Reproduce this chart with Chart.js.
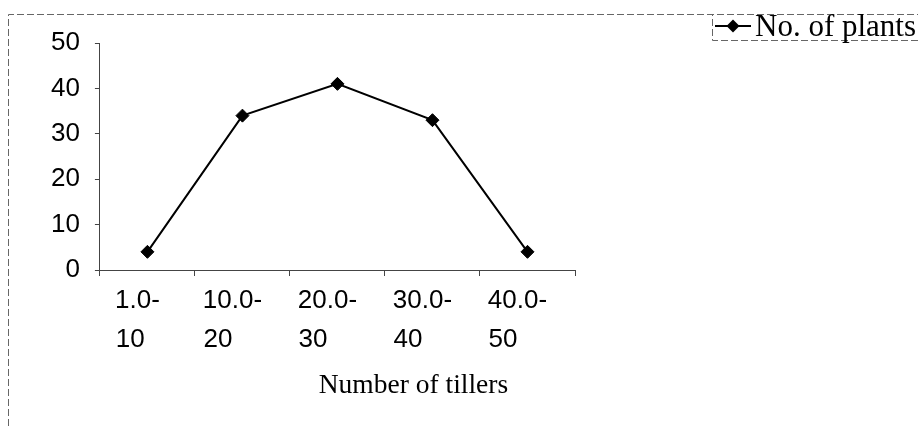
<!DOCTYPE html>
<html>
<head>
<meta charset="utf-8">
<script src="https://cdn.jsdelivr.net/npm/chart.js@4.4.0/dist/chart.umd.min.js"></script>
<style>
  html, body { margin: 0; padding: 0; background: #fff; }
  #wrap { width: 918px; height: 426px; }
</style>
</head>
<body>
<div id="wrap"><canvas id="tillersChart"></canvas></div>
<script>
const tillerClasses = [['1.0-', '10'], ['10.0-', '20'], ['20.0-', '30'], ['30.0-', '40'], ['40.0-', '50']];
const plantCounts = [4, 34, 41, 33, 4];
const seriesName = 'No. of plants';
const xAxisTitle = 'Number of tillers';
const yTicks = [0, 10, 20, 30, 40, 50];

const tickFont = { family: '"Liberation Sans", Arial, sans-serif', size: 26, lineHeight: 1.5 };
const titleFont = '27.5px "Liberation Serif", "Times New Roman", serif';
const legendFont = '31px "Liberation Serif", "Times New Roman", serif';

// excel keeps the wrapped lines left aligned, so pad the second line out to the first
const measure = document.createElement('canvas').getContext('2d');
measure.font = tickFont.size + 'px ' + tickFont.family;
function padLines(lines) {
  const w0 = measure.measureText(lines[0]).width;
  const sp = measure.measureText(' ').width;
  return lines.map(l => {
    const n = Math.round((w0 - measure.measureText(l).width) / sp);
    return n > 0 ? l + ' '.repeat(n) : l;
  });
}

const extras = {
  id: 'extras',
  beforeDraw(chart) {
    const ctx = chart.ctx;
    ctx.save();
    ctx.strokeStyle = '#666';
    ctx.lineWidth = 1;
    ctx.setLineDash([7, 3]);
    ctx.beginPath();
    ctx.moveTo(8.5, 426);
    ctx.lineTo(8.5, 14.5);
    ctx.lineTo(918, 14.5);
    ctx.stroke();
    ctx.restore();
  },
  afterDraw(chart) {
    const ctx = chart.ctx;
    const area = chart.chartArea;
    const ds = chart.data.datasets[0];
    ctx.save();

    // axis title, sits right of centre in the original
    ctx.font = titleFont;
    ctx.fillStyle = '#000';
    ctx.textAlign = 'center';
    ctx.textBaseline = 'alphabetic';
    ctx.fillText(xAxisTitle, (area.left + area.right) / 2 + 76, 393);

    // legend box
    const lx = 712, ly = 14.5, lb = 40.5;
    ctx.strokeStyle = '#666';
    ctx.lineWidth = 1;
    ctx.setLineDash([7, 3]);
    ctx.beginPath();
    ctx.moveTo(918, lb);
    ctx.lineTo(lx + 0.5, lb);
    ctx.lineTo(lx + 0.5, ly);
    ctx.stroke();
    ctx.setLineDash([]);

    const my = 26, mx = 733;
    ctx.strokeStyle = ds.borderColor;
    ctx.lineWidth = ds.borderWidth;
    ctx.beginPath();
    ctx.moveTo(715, my);
    ctx.lineTo(751, my);
    ctx.stroke();
    const r = ds.pointRadius;
    ctx.fillStyle = ds.pointBackgroundColor;
    ctx.beginPath();
    ctx.moveTo(mx - r, my);
    ctx.lineTo(mx, my - r);
    ctx.lineTo(mx + r, my);
    ctx.lineTo(mx, my + r);
    ctx.closePath();
    ctx.fill();

    ctx.font = legendFont;
    ctx.fillStyle = '#000';
    ctx.textAlign = 'left';
    ctx.fillText(ds.label, 755, 36);
    ctx.restore();
  }
};

new Chart(document.getElementById('tillersChart'), {
  type: 'line',
  data: {
    labels: tillerClasses.map(padLines),
    datasets: [{
      label: seriesName,
      data: plantCounts,
      borderColor: '#000',
      borderWidth: 2,
      pointStyle: 'rectRot',
      pointRadius: 6.5,
      pointBorderWidth: 1,
      pointBackgroundColor: '#000',
      pointBorderColor: '#000',
      tension: 0
    }]
  },
  options: {
    responsive: true,
    maintainAspectRatio: false,
    animation: false,
    layout: { padding: { top: 43, left: 36, right: 343, bottom: 62 } },
    plugins: {
      legend: { display: false },
      tooltip: { enabled: false }
    },
    scales: {
      x: {
        offset: true,
        grid: { offset: true, drawOnChartArea: false, tickLength: 6, color: '#444' },
        border: { color: '#444', width: 1 },
        ticks: { color: '#000', font: tickFont, padding: 5, labelOffset: -10, maxRotation: 0, autoSkip: false }
      },
      y: {
        min: yTicks[0],
        max: yTicks[yTicks.length - 1],
        afterBuildTicks: scale => { scale.ticks = yTicks.map(v => ({ value: v })); },
        grid: { drawOnChartArea: false, tickLength: 5, color: '#444' },
        border: { color: '#444', width: 1 },
        ticks: { color: '#000', font: { family: tickFont.family, size: 26 }, padding: 15 }
      }
    }
  },
  plugins: [extras]
});
</script>
</body>
</html>
